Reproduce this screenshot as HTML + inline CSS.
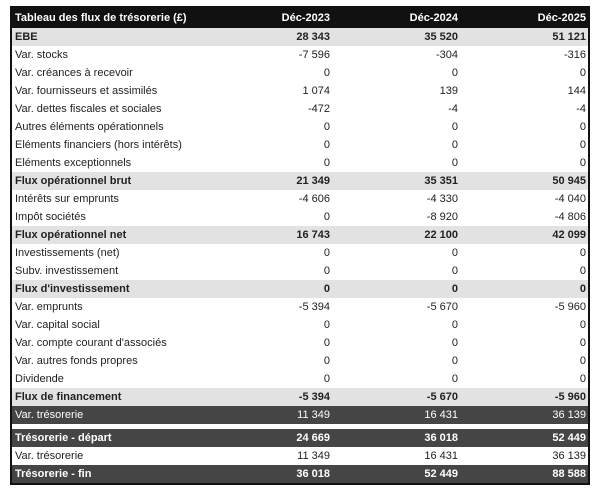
<!DOCTYPE html><html><head><style>
body{margin:0;width:600px;height:492px;background:#fff;font-family:"Liberation Sans",sans-serif;font-size:11px;color:#222}
.t{position:absolute;left:10px;top:6px;width:576px;border:2px solid #111;background:#fff}
.r{height:18px;line-height:18px;display:flex;position:relative}
.r div{box-sizing:border-box}
.l{width:228px;padding-left:3px;white-space:nowrap}
.v{width:90px;text-align:right}
.v2{width:128px;text-align:right}
.v3{width:130px;text-align:right;padding-right:2px}
.h{background:#111;color:#fff;font-weight:bold;height:20px;line-height:20px}
.g{background:#e2e2e2;font-weight:bold}
.d{background:#454545;color:#fff}
.gap{height:5px}
</style></head><body><div class="t">
<div class="r h"><div class="l">Tableau des flux de trésorerie (£)</div><div class="v">Déc-2023</div><div class="v2">Déc-2024</div><div class="v3">Déc-2025</div></div>
<div class="r g"><div class="l">EBE</div><div class="v">28 343</div><div class="v2">35 520</div><div class="v3">51 121</div></div>
<div class="r"><div class="l">Var. stocks</div><div class="v">-7 596</div><div class="v2">-304</div><div class="v3">-316</div></div>
<div class="r"><div class="l">Var. créances à recevoir</div><div class="v">0</div><div class="v2">0</div><div class="v3">0</div></div>
<div class="r"><div class="l">Var. fournisseurs et assimilés</div><div class="v">1 074</div><div class="v2">139</div><div class="v3">144</div></div>
<div class="r"><div class="l">Var. dettes fiscales et sociales</div><div class="v">-472</div><div class="v2">-4</div><div class="v3">-4</div></div>
<div class="r"><div class="l">Autres éléments opérationnels</div><div class="v">0</div><div class="v2">0</div><div class="v3">0</div></div>
<div class="r"><div class="l">Eléments financiers (hors intérêts)</div><div class="v">0</div><div class="v2">0</div><div class="v3">0</div></div>
<div class="r"><div class="l">Eléments exceptionnels</div><div class="v">0</div><div class="v2">0</div><div class="v3">0</div></div>
<div class="r g"><div class="l">Flux opérationnel brut</div><div class="v">21 349</div><div class="v2">35 351</div><div class="v3">50 945</div></div>
<div class="r"><div class="l">Intérêts sur emprunts</div><div class="v">-4 606</div><div class="v2">-4 330</div><div class="v3">-4 040</div></div>
<div class="r"><div class="l">Impôt sociétés</div><div class="v">0</div><div class="v2">-8 920</div><div class="v3">-4 806</div></div>
<div class="r g"><div class="l">Flux opérationnel net</div><div class="v">16 743</div><div class="v2">22 100</div><div class="v3">42 099</div></div>
<div class="r"><div class="l">Investissements (net)</div><div class="v">0</div><div class="v2">0</div><div class="v3">0</div></div>
<div class="r"><div class="l">Subv. investissement</div><div class="v">0</div><div class="v2">0</div><div class="v3">0</div></div>
<div class="r g"><div class="l">Flux d'investissement</div><div class="v">0</div><div class="v2">0</div><div class="v3">0</div></div>
<div class="r"><div class="l">Var. emprunts</div><div class="v">-5 394</div><div class="v2">-5 670</div><div class="v3">-5 960</div></div>
<div class="r"><div class="l">Var. capital social</div><div class="v">0</div><div class="v2">0</div><div class="v3">0</div></div>
<div class="r"><div class="l">Var. compte courant d'associés</div><div class="v">0</div><div class="v2">0</div><div class="v3">0</div></div>
<div class="r"><div class="l">Var. autres fonds propres</div><div class="v">0</div><div class="v2">0</div><div class="v3">0</div></div>
<div class="r"><div class="l">Dividende</div><div class="v">0</div><div class="v2">0</div><div class="v3">0</div></div>
<div class="r g"><div class="l">Flux de financement</div><div class="v">-5 394</div><div class="v2">-5 670</div><div class="v3">-5 960</div></div>
<div class="r d"><div class="l">Var. trésorerie</div><div class="v">11 349</div><div class="v2">16 431</div><div class="v3">36 139</div></div>
<div class="gap"></div>
<div class="r d" style="font-weight:bold"><div class="l">Trésorerie - départ</div><div class="v">24 669</div><div class="v2">36 018</div><div class="v3">52 449</div></div>
<div class="r"><div class="l">Var. trésorerie</div><div class="v">11 349</div><div class="v2">16 431</div><div class="v3">36 139</div></div>
<div class="r d" style="font-weight:bold"><div class="l">Trésorerie - fin</div><div class="v">36 018</div><div class="v2">52 449</div><div class="v3">88 588</div></div>
</div></body></html>
